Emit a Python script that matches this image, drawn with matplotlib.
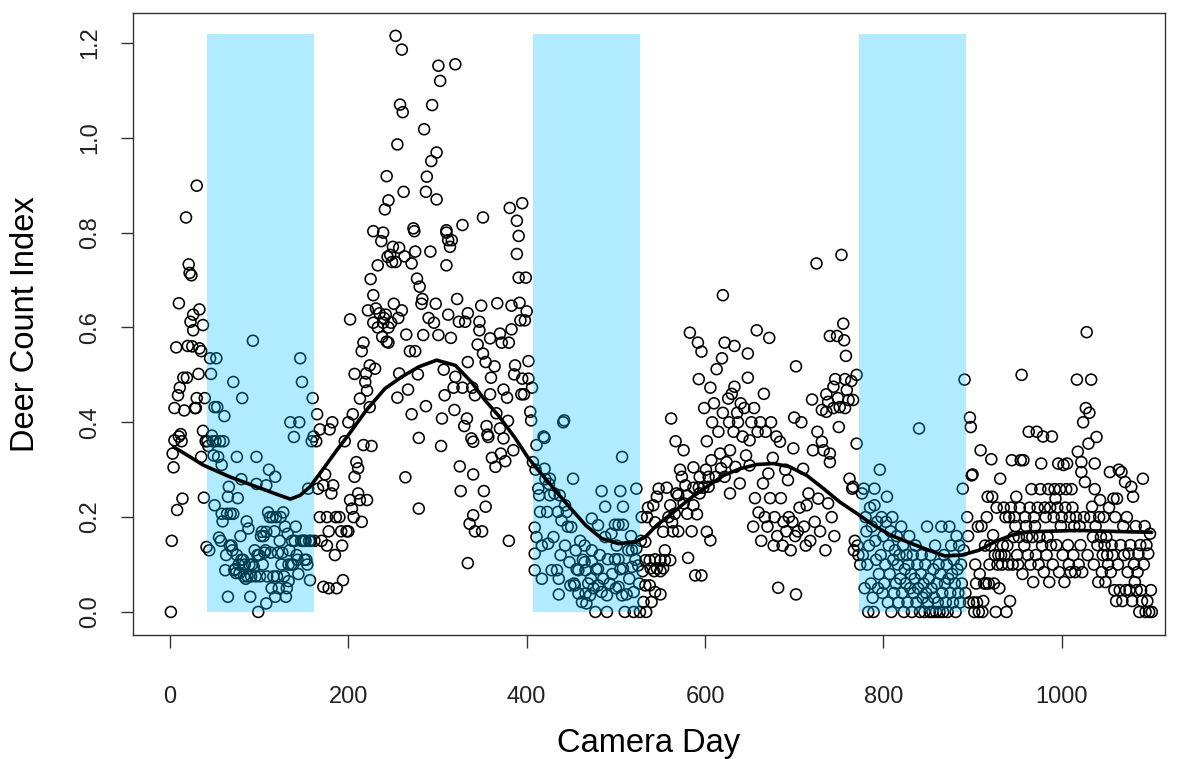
import numpy as np
import matplotlib
matplotlib.use("Agg")
import matplotlib.pyplot as plt

# (camera day, deer count index), block by block
pre_winter1 = [(1,0.0),(2,0.15),(3,0.334),(4,0.305),(5,0.43),(5,0.362),(7,0.558),(8,0.215),(9,0.457),
               (10,0.651),(10,0.37),(11,0.473),(12,0.375),(13,0.36),(14,0.239),(15,0.494),(16,0.425),(18,0.832),
               (19,0.494),(20,0.561),(21,0.733),(22,0.715),(23,0.612),(24,0.71),(25,0.56),(26,0.627),(26,0.594),
               (28,0.43),(29,0.43),(30,0.451),(30,0.899),(32,0.502),(33,0.638),(33,0.556),(35,0.55),
               (35,0.327),(37,0.605),(37,0.382),(38,0.241),(39,0.451),(40,0.36),(41,0.137)]

winter1 = [(42,0.36),(43,0.35),(44,0.13),(45,0.535),(46,0.502),(47,0.372),(48,0.36),(49,0.33),(50,0.432),
           (50,0.225),(51,0.36),(52,0.535),(53,0.432),(54,0.327),(55,0.157),(56,0.36),(57,0.15),(58,0.31),
           (58,0.207),(59,0.191),(60,0.36),(61,0.413),(62,0.088),(63,0.12),(64,0.207),(65,0.243),(65,0.032),
           (66,0.264),(67,0.14),(68,0.207),(69,0.14),(70,0.13),(71,0.485),(71,0.207),(72,0.088),(73,0.09),
           (74,0.082),(75,0.327),(75,0.12),(76,0.24),(77,0.1),(78,0.082),(79,0.16),(80,0.28),(80,0.11),
           (81,0.451),(82,0.11),(83,0.075),(84,0.1),(85,0.07),(86,0.191),(87,0.075),(88,0.176),(89,0.1),
           (90,0.032),(91,0.075),(92,0.10),(93,0.572),(94,0.095),(95,0.13),(96,0.075),(97,0.327),(97,0.27),
           (98,0.12),(99,0.0),(100,0.12),(101,0.075),(102,0.16),(103,0.169),(104,0.1),(105,0.16),(106,0.125),
           (107,0.13),(108,0.267),(108,0.169),(108,0.018),(109,0.075),(110,0.21),(111,0.30),(112,0.2),
           (113,0.125),(114,0.05),(115,0.2),(116,0.075),(117,0.17),(118,0.285),(118,0.032),(119,0.2),
           (120,0.075),(121,0.125),(122,0.05),(123,0.15),(124,0.2),(125,0.1),(126,0.125),(127,0.21),
           (128,0.075),(129,0.18),(130,0.032),(131,0.05),(132,0.165),(133,0.1),(133,0.065),(134,0.13),
           (135,0.40),(136,0.1),(137,0.15),(138,0.1),(139,0.369),(140,0.15),(141,0.18),(142,0.12),
           (143,0.11),(144,0.08),(145,0.40),(146,0.535),(147,0.15),(148,0.485),(149,0.15),(150,0.15),
           (151,0.11),(152,0.15),(153,0.11),(154,0.10),(155,0.26),(156,0.15),(157,0.067),(158,0.15),
           (159,0.36),(160,0.451),(161,0.37),(162,0.15)]

rise1 = [(164,0.36),(165,0.417),(166,0.26),(168,0.385),(168,0.2),(170,0.15),(172,0.267),(172,0.053),
         (174,0.29),(176,0.2),(176,0.14),(178,0.05),(178,0.17),(179,0.385),(181,0.25),(182,0.40),(183,0.267),
         (185,0.12),(186,0.2),(187,0.05),(190,0.2),(192,0.17),(193,0.14),(194,0.067),(196,0.36),(198,0.17),
         (200,0.40),(200,0.17),(202,0.617),(202,0.236),(204,0.218),(205,0.417),(206,0.2),(207,0.285),
         (207,0.502),(209,0.316),(211,0.303),(211,0.25),(213,0.236),(213,0.45),(215,0.19),(215,0.55),
         (217,0.568),(217,0.352),(219,0.485),(220,0.503),(221,0.236),(221,0.467),(222,0.636),(224,0.52),
         (224,0.432),(225,0.702),(226,0.35),(228,0.668),(228,0.803),(228,0.61),(230,0.513),(231,0.64),
         (233,0.731),(233,0.6),(235,0.63),(237,0.782),(238,0.58),(239,0.8),(239,0.61),(240,0.62)]

peak1 = [(241,0.849),(242,0.627),(243,0.919),(243,0.57),(244,0.749),(245,0.868),(245,0.6),(245,0.568),
         (247,0.753),(248,0.61),(249,0.738),(250,0.77),(251,0.65),(253,0.738),(253,1.215),(255,0.986),
         (255,0.452),(256,0.62),(257,0.768),(257,0.503),(258,1.07),(260,1.186),(260,0.636),(261,1.054),
         (262,0.886),(263,0.75),(264,0.284),(265,0.585),(267,0.469),(269,0.55),(271,0.735),(271,0.417),
         (273,0.809),(274,0.803),(275,0.55),(275,0.76),(277,0.703),(278,0.501),(279,0.367),(279,0.218),
         (280,0.686),(282,0.65),(283,0.66),(284,0.584),(285,1.018),(287,0.886),(287,0.434),(288,0.918),
         (290,0.62),(292,0.76),(293,0.951),(294,1.069),(296,0.61),(298,0.65),(299,0.969),(299,0.87),
         (301,1.152),(301,0.584),(303,1.12),(304,0.35),(305,0.408),(307,0.511),(308,0.457),(310,0.805),
         (310,0.731),(310,0.8),(312,0.784),(312,0.627),(314,0.77),(315,0.578),(316,0.784),(318,0.473),
         (319,0.426),(320,1.155),(320,0.496),(322,0.66),(324,0.612),(325,0.307),(326,0.255),(328,0.816),
         (328,0.473),(330,0.392),(331,0.612)]

fall1 = [(333,0.408),(334,0.63),(334,0.527),(334,0.103),(336,0.186),(338,0.366),(339,0.473),(340,0.359),
         (340,0.29),(340,0.204),(342,0.457),(342,0.17),(345,0.564),(347,0.612),(347,0.594),(349,0.646),
         (350,0.17),(351,0.545),(351,0.832),(352,0.255),(354,0.527),(354,0.222),(355,0.392),(356,0.374),
         (357,0.369),(359,0.459),(359,0.577),(360,0.494),(361,0.325),(364,0.518),(365,0.306),(366,0.419),
         (367,0.651),(370,0.587),(370,0.387),(371,0.334),(372,0.568),(374,0.469),(374,0.366),(376,0.318),
         (378,0.452),(379,0.403),(380,0.568),(380,0.15),(381,0.852),(383,0.596),(383,0.646),(385,0.341),
         (386,0.501),(387,0.52),(389,0.825),(389,0.755),(391,0.793),(391,0.705),(392,0.652),(393,0.615),
         (394,0.459),(395,0.862),(395,0.492),(397,0.459),(398,0.615),(399,0.705),(400,0.634),(402,0.529),
         (402,0.492),(404,0.422),(405,0.404),(406,0.473),(407,0.316)]

winter2 = [(409,0.178),(409,0.123),(409,0.088),(410,0.30),(411,0.352),(411,0.158),(413,0.26),(414,0.246),
           (415,0.211),(417,0.14),(417,0.07),(419,0.37),(420,0.367),(420,0.302),(421,0.28),(423,0.211),
           (424,0.144),(425,0.27),(426,0.246),(426,0.281),(428,0.088),(430,0.158),(431,0.25),(434,0.088),
           (435,0.211),(436,0.07),(436,0.037),(437,0.246),(438,0.12),(439,0.193),(441,0.40),(442,0.404),
           (443,0.225),(443,0.14),(445,0.211),(446,0.18),(448,0.105),(449,0.056),(450,0.179),(452,0.281),
           (453,0.06),(454,0.056),(455,0.13),(456,0.09),(458,0.088),(458,0.039),(460,0.15),(462,0.021),
           (463,0.11),(465,0.14),(465,0.105),(466,0.088),(466,0.039),(467,0.018),(469,0.06),(471,0.035),
           (472,0.07),(473,0.197),(473,0.13),(473,0.107),(475,0.05),(477,0.0),(478,0.09),(480,0.183),
           (480,0.091),(480,0.056),(482,0.12),(484,0.255),(484,0.042),(486,0.07),(488,0.222),(488,0.158),
           (490,0.035),(490,0.0),(491,0.111),(493,0.06),(495,0.165),(496,0.08),(499,0.184),(499,0.111),
           (500,0.05),(501,0.14),(503,0.184),(503,0.111),(503,0.053),(505,0.255),(505,0.09),(507,0.327),
           (507,0.035),(508,0.222),(508,0.184),(508,0.092),(510,0.0),(512,0.037),(514,0.13),(515,0.07),
           (517,0.16),(518,0.13),(518,0.095),(520,0.042),(520,0.0),(522,0.11),(523,0.26),(523,0.134),
           (525,0.098),(526,0.06),(527,0.0),(528,0.15),(529,0.2)]

rise2 = [(530,0.086),(531,0.021),(533,0.148),(533,0.109),(533,0.056),(534,0.0),(535,0.2),(536,0.22),
         (538,0.109),(538,0.056),(539,0.092),(540,0.021),(542,0.225),(543,0.086),(544,0.189),(544,0.111),
         (544,0.042),(546,0.243),(546,0.092),(548,0.26),(550,0.109),(550,0.037),(550,0.086),(553,0.169),
         (553,0.092),(555,0.13),(555,0.109),(557,0.262),(559,0.2),(561,0.225),(561,0.109),(562,0.408),
         (563,0.189),(564,0.17),(566,0.207),(567,0.36),(568,0.25),(570,0.246),(570,0.17),(572,0.3),
         (574,0.285),(576,0.341),(576,0.229),(578,0.267),(580,0.246),(580,0.207),(581,0.114),(583,0.589),
         (585,0.17),(587,0.305),(587,0.262),(587,0.225),(589,0.077),(591,0.206),(592,0.568),(593,0.262),
         (593,0.491),(594,0.285),(594,0.25),(596,0.549),(596,0.077),(598,0.262),(599,0.43),(601,0.3),
         (602,0.36),(602,0.169),(604,0.285),(604,0.264),(606,0.473),(606,0.151),(607,0.32),(608,0.4),
         (610,0.44),(612,0.285),(613,0.512),(615,0.38),(617,0.334),(618,0.303),(619,0.535),(620,0.668),
         (620,0.42)]

hump2 = [(622,0.568),(622,0.285),(624,0.316),(626,0.45),(627,0.4),(628,0.341),(628,0.25),(630,0.46),
         (632,0.38),(633,0.561),(633,0.475),(634,0.306),(636,0.42),(637,0.4),(639,0.271),(640,0.44),
         (642,0.37),(644,0.43),(646,0.33),(648,0.545),(648,0.494),(650,0.362),(650,0.309),(652,0.4),
         (654,0.18),(655,0.43),(656,0.24),(658,0.594),(659,0.38),(660,0.21),(662,0.4),(663,0.15),
         (665,0.271),(666,0.46),(667,0.2),(668,0.38),(670,0.18),(671,0.292),(672,0.578),(673,0.24),
         (674,0.4),(676,0.325),(677,0.14),(678,0.2),(680,0.37),(681,0.16),(682,0.051),(684,0.359),
         (685,0.24),(687,0.14),(688,0.19),(690,0.3),(691,0.17),(693,0.278),(694,0.2),(696,0.13),
         (698,0.19),(699,0.345),(700,0.41),(701,0.16),(702,0.518),(702,0.037),(704,0.17),(706,0.22),
         (708,0.4),(710,0.302),(711,0.18),(713,0.14),(714,0.225),(716,0.25),(718,0.15),(720,0.448),
         (721,0.341),(723,0.19),(725,0.735),(726,0.38),(727,0.239),(729,0.17),(731,0.426),(731,0.359),
         (733,0.341),(735,0.13),(736,0.459),(736,0.422),(738,0.443),(738,0.229),(740,0.582),(740,0.334),
         (740,0.316),(742,0.2),(744,0.475),(744,0.43),(745,0.16),(746,0.491),(748,0.582),(749,0.451),
         (750,0.39),(751,0.432),(753,0.753),(755,0.608),(756,0.573),(757,0.491),(757,0.43),(758,0.54),
         (759,0.468),(761,0.447),(762,0.281),(764,0.487),(765,0.26),(766,0.447),(766,0.264),(767,0.13),
         (768,0.15),(770,0.50),(770,0.355),(771,0.14),(772,0.12)]

winter3 = [(774,0.10),(776,0.25),(777,0.12),(778,0.26),(779,0.05),(780,0.2),(781,0.17),(782,0.1),(783,0.0),
           (784,0.14),(785,0.22),(786,0.06),(787,0.18),(788,0.03),(789,0.0),(790,0.26),(790,0.225),
           (791,0.15),(792,0.11),(793,0.19),(794,0.05),(795,0.08),(796,0.3),(797,0.12),(798,0.2),(799,0.04),
           (800,0.16),(801,0.06),(802,0.1),(803,0.19),(804,0.243),(805,0.02),(806,0.14),(807,0.08),
           (808,0.17),(809,0.0),(810,0.2),(811,0.11),(812,0.04),(813,0.13),(814,0.06),(815,0.16),(816,0.1),
           (817,0.02),(818,0.12),(819,0.07),(820,0.18),(821,0.04),(822,0.14),(823,0.0),(824,0.09),
           (825,0.06),(826,0.12),(827,0.02),(828,0.1),(829,0.16),(830,0.05),(831,0.08),(832,0.0),(833,0.12),
           (834,0.04),(835,0.07),(836,0.14),(837,0.02),(838,0.1),(839,0.05),(840,0.387),(841,0.0),(842,0.08),
           (843,0.12),(844,0.03),(845,0.06),(846,0.0),(847,0.1),(848,0.04),(849,0.18),(850,0.02),(851,0.07),
           (852,0.0),(853,0.12),(854,0.05),(855,0.0),(856,0.09),(857,0.03),(858,0.14),(859,0.0),(860,0.06),
           (861,0.02),(862,0.1),(863,0.0),(864,0.08),(865,0.18),(866,0.04),(867,0.0),(868,0.12),(869,0.06),
           (870,0.02),(871,0.1),(872,0.0),(873,0.07),(874,0.18),(875,0.04),(876,0.14),(877,0.08),(878,0.02),
           (879,0.11),(880,0.06),(881,0.0),(882,0.16),(883,0.09),(884,0.04),(885,0.14),(886,0.02),(887,0.1),
           (888,0.06),(889,0.26),(890,0.13),(891,0.49),(892,0.04)]

last_year = [(894,0.2),(895,0.16),(896,0.02),(897,0.41),(898,0.39),(899,0.288),(900,0.29),(901,0.02),
             (902,0.0),(903,0.1),(904,0.06),(905,0.02),(906,0.18),(907,0.0),(908,0.08),(909,0.341),
             (910,0.181),(911,0.0),(912,0.023),(913,0.06),(914,0.14),(915,0.06),(916,0.2),(917,0.243),
             (918,0.06),(919,0.1),(920,0.14),(921,0.322),(922,0.243),(923,0.162),(924,0.06),(925,0.12),
             (926,0.0),(927,0.22),(928,0.1),(929,0.12),(930,0.05),(931,0.281),(932,0.12),(933,0.1),
             (934,0.14),(935,0.22),(936,0.12),(937,0.2),(938,0.0),(939,0.14),(940,0.1),(941,0.2),(942,0.023),
             (943,0.22),(944,0.32),(945,0.1),(946,0.158),(947,0.2),(948,0.181),(949,0.243),(950,0.12),
             (951,0.1),(952,0.158),(953,0.22),(954,0.32),(955,0.5),(956,0.08),(957,0.32),(958,0.14),(959,0.2),
             (960,0.181),(961,0.158),(962,0.12),(963,0.38),(964,0.22),(965,0.1),(966,0.259),(967,0.158),
             (968,0.063),(969,0.2),(970,0.181),(971,0.12),(972,0.38),(973,0.22),(974,0.1),(975,0.158),
             (976,0.259),(977,0.313),(978,0.14),(979,0.37),(980,0.084),(981,0.22),(982,0.2),(983,0.12),
             (984,0.158),(985,0.259),(986,0.063),(987,0.22),(988,0.141),(989,0.37),(990,0.1),(991,0.2),
             (992,0.259),(993,0.239),(994,0.141),(995,0.22),(996,0.313),(997,0.084),(998,0.259),(999,0.181),
             (1000,0.2),(1001,0.12),(1002,0.31),(1003,0.063),(1004,0.22),(1005,0.259),(1006,0.313),
             (1007,0.141),(1008,0.1),(1009,0.2),(1010,0.084),(1011,0.259),(1012,0.22),(1013,0.12),
             (1014,0.181),(1015,0.084),(1016,0.2),(1017,0.49),(1018,0.338),(1019,0.1),(1020,0.181),
             (1021,0.141),(1022,0.316),(1022,0.295),(1023,0.084),(1024,0.4),(1025,0.2),(1026,0.274),
             (1027,0.43),(1028,0.59),(1029,0.12),(1030,0.355),(1031,0.42),(1032,0.2),(1033,0.49),(1034,0.222),
             (1035,0.158),(1036,0.1),(1037,0.259),(1037,0.313),(1038,0.181),(1039,0.369),(1040,0.141),
             (1041,0.063),(1042,0.2),(1043,0.236),(1044,0.158),(1045,0.084),(1046,0.12),(1047,0.2),
             (1048,0.141),(1049,0.063),(1050,0.158),(1051,0.12),(1052,0.1),(1053,0.22),(1054,0.295),
             (1055,0.084),(1056,0.141),(1057,0.12),(1058,0.239),(1059,0.046),(1060,0.2),(1061,0.023),
             (1062,0.239),(1063,0.1),(1064,0.3),(1065,0.046),(1066,0.141),(1067,0.295),(1068,0.023),
             (1069,0.181),(1070,0.12),(1071,0.274),(1072,0.046),(1073,0.2),(1074,0.084),(1075,0.123),
             (1076,0.046),(1077,0.141),(1078,0.264),(1079,0.023),(1080,0.243),(1081,0.1),(1082,0.063),
             (1083,0.181),(1084,0.046),(1085,0.084),(1086,0.123),(1087,0.0),(1088,0.141),(1089,0.046),
             (1090,0.023),(1091,0.281),(1092,0.1),(1093,0.181),(1094,0.0),(1095,0.141),(1096,0.023),
             (1097,0.123),(1098,0.0),(1099,0.165),(1100,0.046),(1101,0.0)]

# smoothed trend line
trend_day = [4, 20, 37, 67, 97, 120, 135, 146, 157, 172, 187, 200, 220, 241, 260, 279, 299, 320, 338, 353,
             368, 387, 402, 421, 443, 466, 484, 503, 522, 533, 546, 565, 583, 602, 621, 639, 658, 677, 695,
             714, 733, 751, 770, 789, 808, 832, 851, 869, 888, 907, 925, 944, 963, 981, 1019, 1056, 1075, 1101]
trend_val = [0.348, 0.33, 0.31, 0.285, 0.264, 0.248, 0.238, 0.246, 0.264, 0.302, 0.341, 0.373, 0.425, 0.471,
             0.496, 0.517, 0.531, 0.52, 0.485, 0.447, 0.415, 0.367, 0.324, 0.281, 0.232, 0.183, 0.155, 0.144,
             0.148, 0.158, 0.183, 0.211, 0.239, 0.264, 0.288, 0.302, 0.311, 0.313, 0.306, 0.288, 0.26, 0.232,
             0.208, 0.183, 0.162, 0.144, 0.13, 0.118, 0.12, 0.13, 0.148, 0.162, 0.169, 0.17, 0.172, 0.17,
             0.169, 0.168]

# shaded winter periods (start day, end day)
winters = [(42, 162), (407, 527), (773, 893)]
shade_top = 1.219

blocks = [pre_winter1, winter1, rise1, peak1, fall1, winter2, rise2, hump2, winter3, last_year]
pts = np.array([p for b in blocks for p in b])
day, idx = pts[:, 0], pts[:, 1]

plt.rcParams['font.family'] = ['Liberation Sans', 'DejaVu Sans']
fig = plt.figure(figsize=(11.81, 7.59), dpi=100)
ax = fig.add_axes([132.7 / 1181, 1 - 635 / 759, (1165 - 132.7) / 1181, (635 - 12.8) / 759])

ax.scatter(day, idx, s=62, facecolors='none', edgecolors='black', linewidths=1.15, zorder=2)
for a, b in winters:
    ax.add_patch(plt.Rectangle((a, 0), b - a, shade_top, color='#00BFFF', alpha=0.31, lw=0, zorder=3))
ax.plot(trend_day, trend_val, color='black', lw=2.6, zorder=4, solid_capstyle='round')

ax.set_xlim(-41.8, 1115.8)
ax.set_ylim(-0.0486, 1.2636)
ax.set_xticks([0, 200, 400, 600, 800, 1000])
ax.set_yticks([0.0, 0.2, 0.4, 0.6, 0.8, 1.0, 1.2])
ax.set_yticklabels(['0.0', '0.2', '0.4', '0.6', '0.8', '1.0', '1.2'], rotation=90, va='center')
ax.tick_params(length=9, width=1, color='#333333', labelsize=17, labelcolor='#222222')
ax.tick_params(axis='x', pad=28)
ax.tick_params(axis='y', pad=14)
for s in ax.spines.values():
    s.set_linewidth(1.0)
    s.set_color('#333333')

ax.set_xlabel('Camera Day', fontsize=23.5, labelpad=14)
ax.set_ylabel('Deer Count Index', fontsize=23.5, labelpad=27)

fig.savefig('out.png', dpi=100)
